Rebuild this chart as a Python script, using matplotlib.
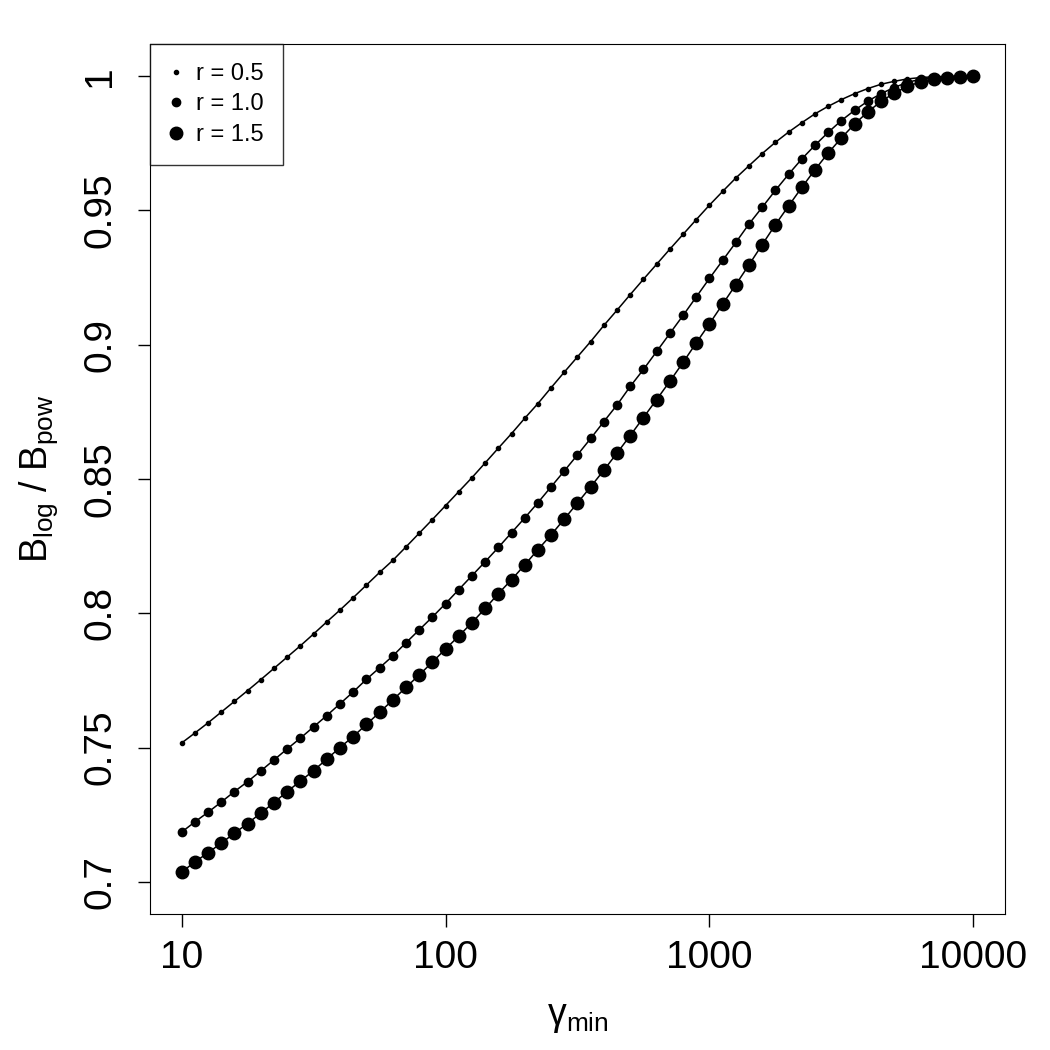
import matplotlib
matplotlib.use("Agg")
import matplotlib.pyplot as plt

plt.rcParams['font.family'] = ['Liberation Sans', 'DejaVu Sans']
plt.rcParams['mathtext.fontset'] = 'custom'
plt.rcParams['mathtext.rm'] = 'Liberation Sans'
plt.rcParams['mathtext.it'] = 'Liberation Sans:italic'

# gamma_min grid (20 points per decade)
decade = [1.0, 1.122, 1.259, 1.413, 1.585, 1.778, 1.995, 2.239, 2.512, 2.818,
          3.162, 3.548, 3.981, 4.467, 5.012, 5.623, 6.310, 7.079, 7.943, 8.913]
gamma = [10 * d for d in decade] + [100 * d for d in decade] + [1000 * d for d in decade] + [10000.0]

ratio_r05 = [0.7517, 0.7554, 0.7592, 0.7632, 0.7672, 0.7712, 0.7753, 0.7795, 0.7837, 0.7879,
             0.7923, 0.7968, 0.8012, 0.8058, 0.8105, 0.8152, 0.8197, 0.8247, 0.8298, 0.8349,
             0.8401, 0.8453, 0.8505, 0.8560, 0.8615, 0.8669, 0.8726, 0.8781, 0.8840, 0.8898,
             0.8955, 0.9012, 0.9072, 0.9129, 0.9187, 0.9244, 0.9300, 0.9356, 0.9411, 0.9466,
             0.9520, 0.9571, 0.9621, 0.9667, 0.9712, 0.9754, 0.9792, 0.9827, 0.9860, 0.9888,
             0.9913, 0.9935, 0.9954, 0.9970, 0.9981, 0.9990, 0.9995, 0.9998, 0.9999, 1.0000,
             1.0000]
ratio_r10 = [0.7185, 0.7223, 0.7259, 0.7297, 0.7336, 0.7373, 0.7413, 0.7454, 0.7495, 0.7535,
             0.7577, 0.7619, 0.7663, 0.7707, 0.7754, 0.7797, 0.7841, 0.7890, 0.7938, 0.7986,
             0.8036, 0.8088, 0.8140, 0.8192, 0.8245, 0.8300, 0.8355, 0.8412, 0.8471, 0.8530,
             0.8590, 0.8651, 0.8714, 0.8776, 0.8845, 0.8908, 0.8975, 0.9042, 0.9109, 0.9178,
             0.9247, 0.9314, 0.9381, 0.9450, 0.9512, 0.9575, 0.9635, 0.9692, 0.9743, 0.9791,
             0.9835, 0.9873, 0.9907, 0.9935, 0.9958, 0.9977, 0.9989, 0.9995, 0.9998, 1.0000,
             1.0000]
ratio_r15 = [0.7036, 0.7074, 0.7108, 0.7144, 0.7181, 0.7217, 0.7256, 0.7295, 0.7336, 0.7375,
             0.7414, 0.7457, 0.7500, 0.7541, 0.7586, 0.7631, 0.7677, 0.7724, 0.7770, 0.7818,
             0.7867, 0.7915, 0.7965, 0.8018, 0.8073, 0.8125, 0.8180, 0.8237, 0.8292, 0.8351,
             0.8411, 0.8471, 0.8533, 0.8597, 0.8662, 0.8729, 0.8796, 0.8864, 0.8934, 0.9007,
             0.9078, 0.9151, 0.9224, 0.9298, 0.9373, 0.9447, 0.9517, 0.9586, 0.9652, 0.9714,
             0.9770, 0.9822, 0.9867, 0.9906, 0.9937, 0.9962, 0.9979, 0.9989, 0.9995, 0.9998,
             1.0000]

series = [("r = 0.5", ratio_r05, 3.0), ("r = 1.0", ratio_r10, 6.0), ("r = 1.5", ratio_r15, 9.0)]

xticks = [10, 100, 1000, 10000]
xticklabels = ["10", "100", "1000", "10000"]
yticks = [0.7, 0.75, 0.8, 0.85, 0.9, 0.95, 1.0]
yticklabels = ["0.7", "0.75", "0.8", "0.85", "0.9", "0.95", "1"]

fig = plt.figure(figsize=(10.5, 10.5), dpi=100)
ax = fig.add_axes([150 / 1050, 1 - 914 / 1050, 855 / 1050, 870 / 1050])

for lab, vals, ms in series:
    ax.plot(gamma, vals, color='black', lw=1.1, marker='o', ms=ms, label=lab)

ax.set_xscale('log')
ax.set_xlim(10 ** 0.88, 10 ** 4.12)
ax.set_ylim(0.688, 1.012)
ax.set_xticks(xticks)
ax.set_xticklabels(xticklabels)
ax.xaxis.set_minor_locator(matplotlib.ticker.NullLocator())
ax.set_yticks(yticks)
ax.set_yticklabels(yticklabels, rotation=90, va='center')
ax.tick_params(axis='both', direction='out', length=9, width=1, labelsize=28)
ax.tick_params(axis='x', pad=10)
ax.tick_params(axis='y', pad=14)

ax.set_xlabel('γ$_{\\mathregular{min}}$', fontsize=27, labelpad=16)
ax.set_ylabel(r'$\mathregular{B_{log}\ /\ B_{pow}}$', fontsize=27, labelpad=16)

leg = ax.legend(loc='upper left', fontsize=17, frameon=True, fancybox=False,
                edgecolor='black', borderaxespad=0, handlelength=0.6,
                handletextpad=0.55, borderpad=0.8, labelspacing=0.36)
leg.get_frame().set_linewidth(1)
for h in leg.legend_handles:
    h.set_linestyle('none')

fig.savefig("out.png", dpi=100)
